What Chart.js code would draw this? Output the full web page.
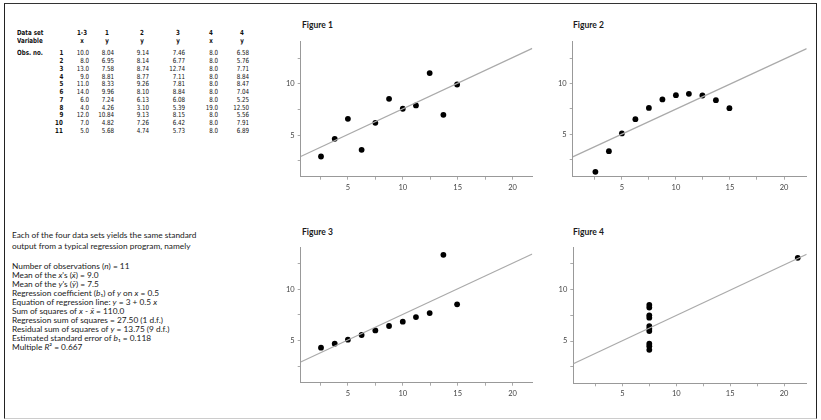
<!DOCTYPE html>
<html>
<head>
<meta charset="utf-8">
<script src="https://cdn.jsdelivr.net/npm/chart.js@4.4.1/dist/chart.umd.min.js"></script>
<style>
  html, body { margin: 0; padding: 0; background: #fff; }
  #page { position: relative; width: 821px; height: 420px; overflow: hidden; background: #fff; }
  #frame { position: absolute; left: 4px; top: 3px; width: 813px; height: 416px; box-sizing: border-box;
           border-top: 1px solid #333; border-left: 1.5px solid #222; border-right: 1.5px solid #222; border-bottom: 1px solid #ccc; }
  canvas { position: absolute; }
  .cell { position: absolute; font-family: "DejaVu Sans Condensed", sans-serif; font-size: 7px;
          line-height: 8px; color: #111; white-space: nowrap; }
  .cell.b { font-weight: bold; }
  .notes { position: absolute; left: 12px; font-family: Lato, sans-serif; font-size: 8.3px; color: #1a1a1a; white-space: nowrap; }
  .ftitle { position: absolute; font-family: Lato, sans-serif; font-size: 8.5px; line-height: 10px; font-weight: bold; color: #1a1a1a; }
</style>
</head>
<body>
<div id="page">
  <div id="frame"></div>
  <div id="table"></div>
  <div class="notes" style="top:230px; line-height:11px;">
    Each of the four data sets yields the same standard<br>
    output from a typical regression program, namely
  </div>
  <div class="notes" style="top:262px; line-height:9px;">
    Number of observations (<i>n</i>) = 11<br>
    Mean of the <i>x</i>'s (<i>x̄</i>) = 9.0<br>
    Mean of the <i>y</i>'s (<i>ȳ</i>) = 7.5<br>
    Regression coefficient (<i>b</i>₁) of <i>y</i> on <i>x</i> = 0.5<br>
    Equation of regression line: <i>y</i> = 3 + 0.5 <i>x</i><br>
    Sum of squares of <i>x</i> - <i>x̄</i> = 110.0<br>
    Regression sum of squares = 27.50 (1 d.f.)<br>
    Residual sum of squares of <i>y</i> = 13.75 (9 d.f.)<br>
    Estimated standard error of <i>b</i>₁ = 0.118<br>
    Multiple <i>R</i>² = 0.667
  </div>
  <div class="ftitle" style="left:302px; top:20px;">Figure 1</div>
  <div class="ftitle" style="left:573px; top:20px;">Figure 2</div>
  <div class="ftitle" style="left:302px; top:226.5px;">Figure 3</div>
  <div class="ftitle" style="left:573px; top:226.5px;">Figure 4</div>
  <canvas id="fig1" width="270" height="205" style="left:280px; top:0px;"></canvas>
  <canvas id="fig2" width="271" height="205" style="left:550px; top:0px;"></canvas>
  <canvas id="fig3" width="270" height="205" style="left:280px; top:210px;"></canvas>
  <canvas id="fig4" width="271" height="205" style="left:550px; top:210px;"></canvas>
</div>
<script>
// table values (Anscombe's data as printed)
var dataSets = ["1-3", "1", "2", "3", "4", "4"];
var variables = ["x", "y", "y", "y", "x", "y"];
var obsNo = ["1", "2", "3", "4", "5", "6", "7", "8", "9", "10", "11"];
var x13 = ["10.0", "8.0", "13.0", "9.0", "11.0", "14.0", "6.0", "4.0", "12.0", "7.0", "5.0"];
var y1 = ["8.04", "6.95", "7.58", "8.81", "8.33", "9.96", "7.24", "4.26", "10.84", "4.82", "5.68"];
var y2 = ["9.14", "8.14", "8.74", "8.77", "9.26", "8.10", "6.13", "3.10", "9.13", "7.26", "4.74"];
var y3 = ["7.46", "6.77", "12.74", "7.11", "7.81", "8.84", "6.08", "5.39", "8.15", "6.42", "5.73"];
var x4 = ["8.0", "8.0", "8.0", "8.0", "8.0", "8.0", "8.0", "19.0", "8.0", "8.0", "8.0"];
var y4 = ["6.58", "5.76", "7.71", "8.84", "8.47", "7.04", "5.25", "12.50", "5.56", "7.91", "6.89"];

// points as they sit on the figures
var figX = [2.55, 3.8, 5.0, 6.25, 7.5, 8.75, 10.0, 11.2, 12.45, 13.7, 14.95];
var fig1Y = [2.92, 4.64, 6.59, 3.57, 6.2, 8.54, 7.57, 7.89, 11.04, 6.98, 9.93];
var fig2Y = [1.33, 3.36, 5.1, 6.5, 7.6, 8.43, 8.85, 8.98, 8.82, 8.36, 7.58];
var fig3Y = [4.31, 4.7, 5.09, 5.55, 6.0, 6.43, 6.85, 7.3, 7.69, 13.37, 8.54];
var fig4X = [7.5, 7.5, 7.5, 7.5, 7.5, 7.5, 7.5, 7.5, 7.5, 7.5, 21.27];
var fig4Y = [8.5, 8.25, 7.5, 7.27, 6.45, 6.2, 5.97, 4.75, 4.5, 4.15, 13.08];

// fitted line y = 3 + 0.5x, end points as drawn
var lineX13 = [0.7, 21.8];
var lineY13 = [2.92, 13.45];
var lineX24 = [0.45, 22.1];
var lineY24 = [2.8, 13.42];

var xTicks = [2.5, 5, 7.5, 10, 12.5, 15, 17.5, 20];
var yTicks = [2.5, 5, 7.5, 10, 12.5];

// ---- table ----
var tbl = document.getElementById("table");
var colRight = [89.3, 114.3, 149, 185, 218, 249];
var squeeze = 0.88; // the printed table uses a narrow face
function cell(txt, x, y, align, bold) {
  var d = document.createElement("div");
  d.className = "cell" + (bold ? " b" : "");
  d.textContent = txt;
  d.style.top = (y - 4) + "px";
  if (align == "right") {
    d.style.right = (821 - x) + "px";
    d.style.transformOrigin = "right center";
  } else if (align == "center") {
    d.style.left = (x - 20) + "px"; d.style.width = "40px"; d.style.textAlign = "center";
    d.style.transformOrigin = "center center";
  } else {
    d.style.left = x + "px";
    d.style.transformOrigin = "left center";
  }
  d.style.transform = "scaleX(" + squeeze + ")";
  tbl.appendChild(d);
}
cell("Data set", 16.7, 33.3, "left", true);
cell("Variable", 16.7, 40.7, "left", true);
cell("Obs. no.", 16.7, 53.3, "left", true);
var cols = [x13, y1, y2, y3, x4, y4];
for (var c = 0; c < 6; c++) {
  cell(dataSets[c], colRight[c] - 7, 33.3, "center", true);
  cell(variables[c], colRight[c] - 7, 40.7, "center", true);
}
for (var r = 0; r < obsNo.length; r++) {
  var yy = 53.3 + r * 7.77;
  cell(obsNo[r], 63, yy, "right", true);
  for (var c = 0; c < 6; c++) cell(cols[c][r], colRight[c], yy, "right", false);
}

// ---- figures ----
Chart.defaults.font.family = "Lato";
function pts(xs, ys) {
  var out = [];
  for (var i = 0; i < xs.length; i++) out.push({x: xs[i], y: ys[i]});
  return out;
}
function makeFig(id, xs, ys, lx, ly, xr, yr, pad) {
  var tickStyle = { color: "#444", font: { size: 7.5 }, padding: 3, autoSkip: false, maxRotation: 0,
                    callback: function(v) { return v % 5 === 0 ? String(v) : ""; } };
  var grid = { drawOnChartArea: false, drawTicks: true, tickLength: 3, color: "#aaa" };
  new Chart(document.getElementById(id), {
    type: "scatter",
    data: {
      datasets: [
        { data: pts(lx, ly), showLine: true, borderColor: "#aaa", borderWidth: 1.2, pointRadius: 0 },
        { data: pts(xs, ys), pointRadius: 2.9, backgroundColor: "#000", borderWidth: 0 }
      ]
    },
    options: {
      responsive: false,
      animation: false,
      layout: { padding: { left: pad.l, right: pad.r, top: pad.t, bottom: pad.b } },
      plugins: { legend: { display: false }, tooltip: { enabled: false } },
      scales: {
        x: { min: xr[0], max: xr[1], grid: grid, border: { color: "#999", width: 1 },
             ticks: tickStyle,
             afterBuildTicks: function(s) { s.ticks = xTicks.map(function(v) { return {value: v}; }); },
             afterFit: function(s) { s.height = 20; } },
        y: { min: yr[0], max: yr[1], grid: grid, border: { color: "#999", width: 1 },
             ticks: tickStyle,
             afterBuildTicks: function(s) { s.ticks = yTicks.map(function(v) { return {value: v}; }); },
             afterFit: function(s) { s.width = 20; } }
      }
    }
  });
}
makeFig("fig1", figX, fig1Y, lineX13, lineY13, [0.7, 21.8], [0.95, 14.1],
        { l: 0.7, r: 17.7, t: 41.7, b: 8.3 });
makeFig("fig2", figX, fig2Y, lineX24, lineY24, [0.45, 22.1], [0.85, 14.1],
        { l: 2.7, r: 14.3, t: 41.7, b: 8.3 });
makeFig("fig3", figX, fig3Y, lineX13, lineY13, [0.7, 21.8], [0.9, 14.1],
        { l: 0.7, r: 17.7, t: 37.3, b: 12.3 });
makeFig("fig4", fig4X, fig4Y, lineX24, lineY24, [0.45, 22.1], [0.9, 14.1],
        { l: 3.3, r: 14.3, t: 37.3, b: 11.7 });
</script>
</body>
</html>
